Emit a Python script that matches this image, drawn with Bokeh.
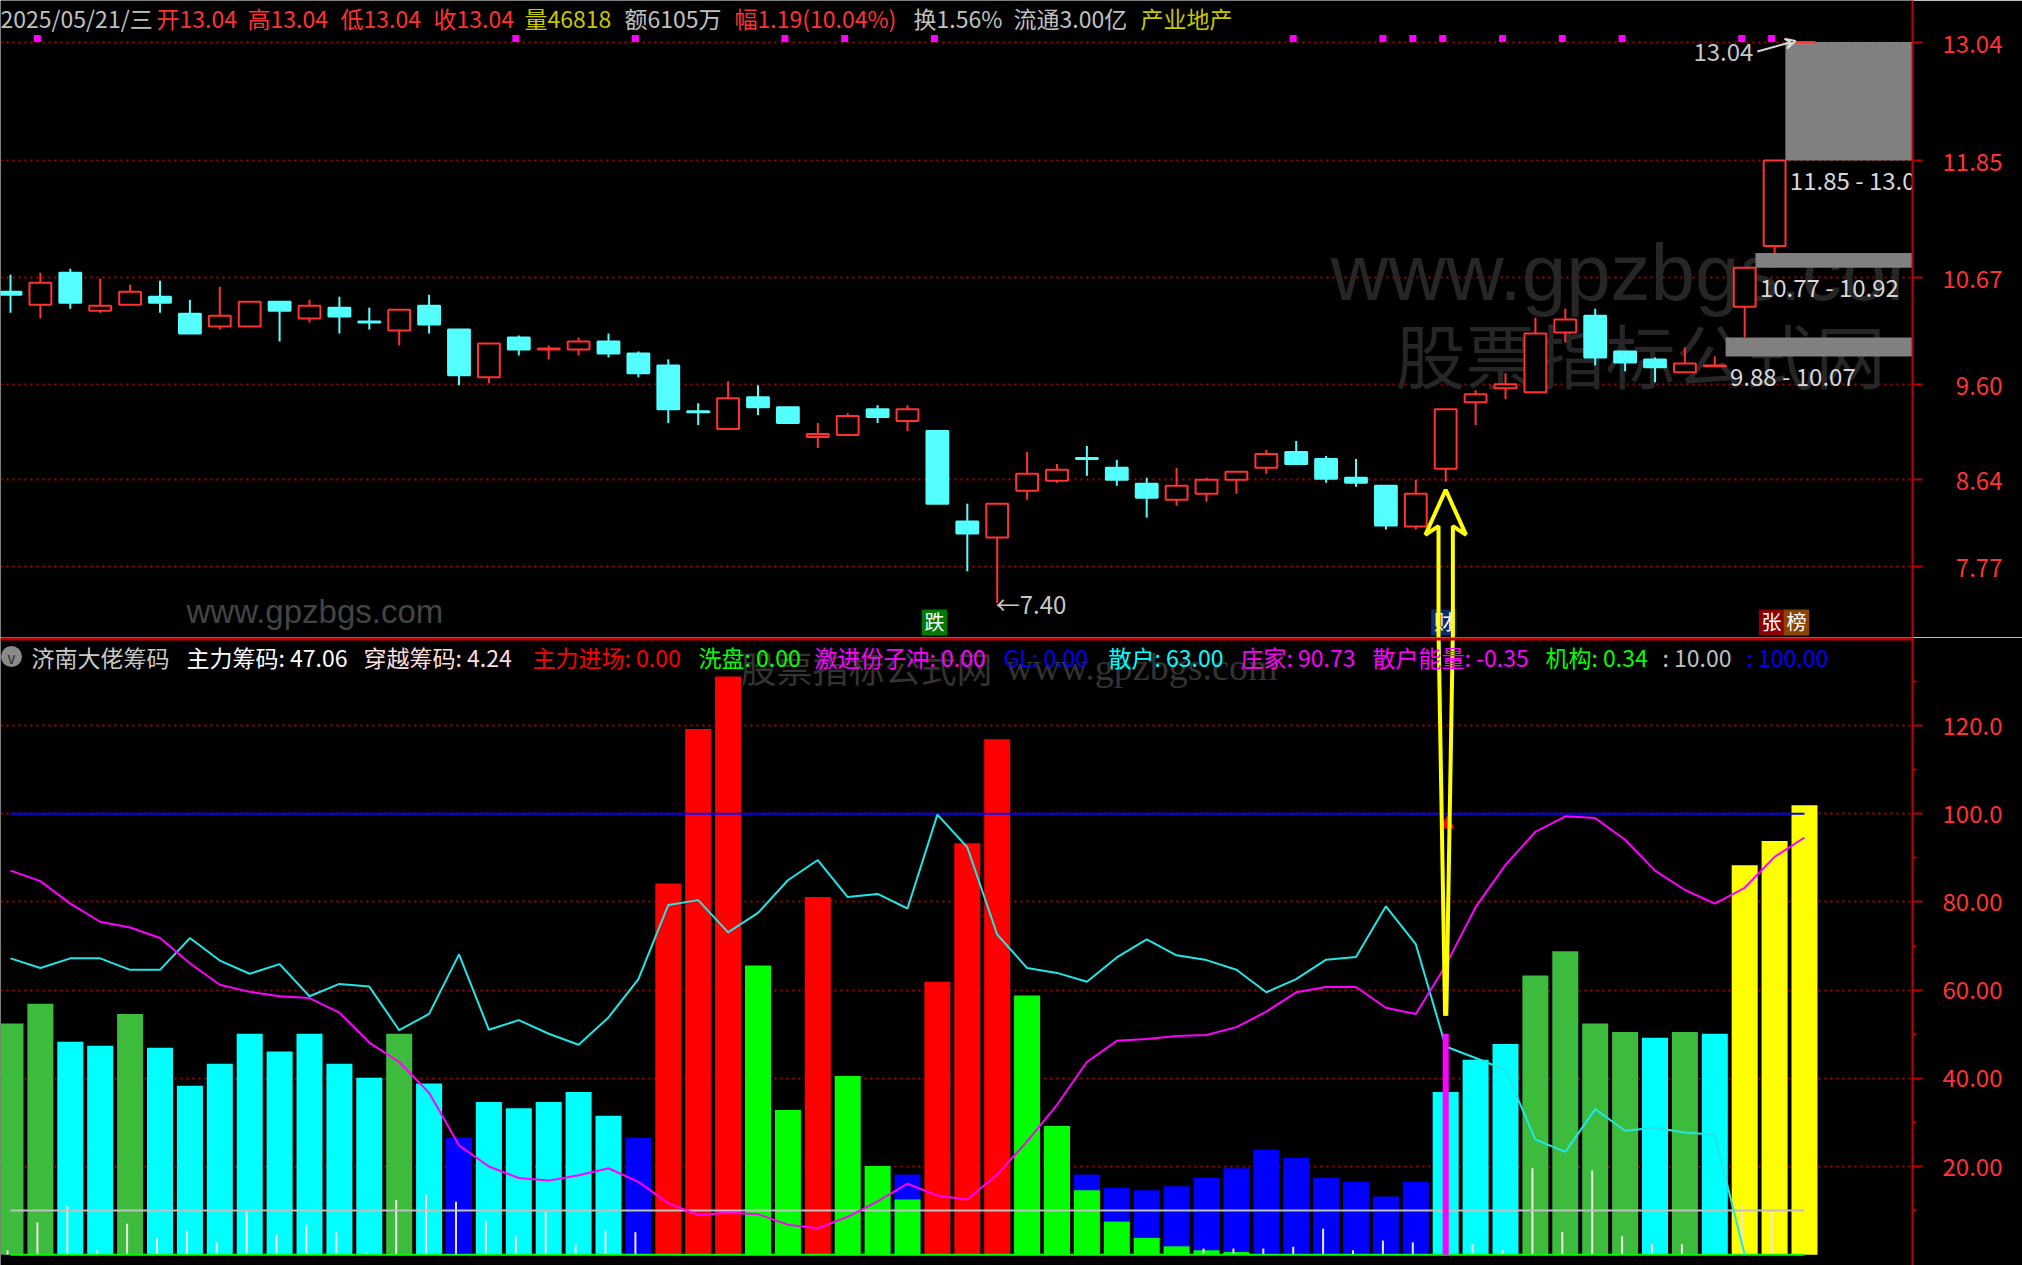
import numpy as np
from bokeh.plotting import figure
from bokeh.layouts import column
from bokeh.models import (Range1d, FixedTicker, Span, Label, Arrow, VeeHead)
from bokeh.core.properties import value
from bokeh.embed import file_html
from bokeh.resources import INLINE

# ---------------- data ----------------
trade_date = "2025/05/21/三"
volume = 46818
amount = "6105万"
change = 1.19
change_pct = 10.04
turnover = 1.56
float_cap = "3.00亿"
sector = "产业地产"

opens = [10.53, 10.40, 10.72, 10.34, 10.40, 10.48, 10.31, 10.18, 10.18, 10.43,
         10.26, 10.37, 10.23, 10.14, 10.39, 10.15, 9.67, 10.07, 9.95, 9.95,
         10.03, 9.91, 9.79, 9.33, 9.15, 9.47, 9.37, 9.07, 9.09, 9.35,
         9.23, 9.13, 8.22, 8.06, 8.53, 8.63, 8.86, 8.76, 8.60, 8.44,
         8.50, 8.64, 8.76, 8.92, 8.85, 8.66, 8.58, 8.17, 8.75, 9.42,
         9.56, 9.52, 10.12, 10.29, 9.93, 9.85, 9.72, 9.78, 10.38, 10.99, 13.04]
highs = [10.70, 10.72, 10.76, 10.66, 10.60, 10.64, 10.45, 10.58, 10.43, 10.43,
         10.45, 10.48, 10.37, 10.35, 10.50, 10.15, 10.01, 10.09, 9.99, 10.07,
         10.11, 9.93, 9.85, 9.41, 9.63, 9.59, 9.37, 9.21, 9.31, 9.39,
         9.39, 9.13, 8.40, 8.40, 8.92, 8.80, 8.98, 8.84, 8.66, 8.76,
         8.66, 8.72, 8.94, 9.03, 8.88, 8.85, 8.58, 8.64, 9.35, 9.54,
         9.71, 10.27, 10.36, 10.36, 9.93, 9.87, 9.97, 9.88, 10.77, 11.85, 13.04]
lows = [10.32, 10.26, 10.36, 10.32, 10.40, 10.32, 10.11, 10.15, 10.18, 10.03,
        10.22, 10.11, 10.15, 9.99, 10.11, 9.59, 9.61, 9.89, 9.85, 9.89,
        9.87, 9.67, 9.21, 9.19, 9.15, 9.29, 9.21, 8.96, 9.09, 9.21,
        9.13, 8.40, 7.72, 7.40, 8.44, 8.61, 8.68, 8.58, 8.26, 8.38,
        8.42, 8.50, 8.70, 8.80, 8.61, 8.57, 8.14, 8.14, 8.62, 9.19,
        9.45, 9.52, 10.02, 9.79, 9.73, 9.62, 9.72, 9.78, 10.07, 10.92, 13.04]
closes = [10.50, 10.62, 10.42, 10.39, 10.53, 10.42, 10.11, 10.29, 10.43, 10.34,
          10.39, 10.28, 10.22, 10.35, 10.20, 9.69, 10.01, 9.95, 9.96, 10.03,
          9.91, 9.71, 9.35, 9.32, 9.46, 9.37, 9.21, 9.10, 9.28, 9.27,
          9.35, 8.40, 8.10, 8.40, 8.70, 8.74, 8.85, 8.64, 8.46, 8.58,
          8.64, 8.72, 8.90, 8.80, 8.65, 8.61, 8.18, 8.50, 9.35, 9.50,
          9.60, 10.11, 10.25, 9.87, 9.82, 9.77, 9.81, 9.79, 10.77, 11.85, 13.04]

price_ticks = [7.77, 8.64, 9.60, 10.67, 11.85, 13.04]
signal_days = [1, 17, 21, 26, 28, 31, 43, 46, 47, 48, 50, 52, 54, 58, 59]
event_days = [31, 48, 59, 59]
event_texts = ["跌", "财", "张", "榜"]

bar_class = ["G", "G", "C", "C", "G", "C", "C", "C", "C", "C",
             "C", "C", "C", "G", "C", "B", "C", "C", "C", "C",
             "C", "B", "R", "R", "R", "L", "L", "R", "L", "L",
             "B", "R", "R", "R", "L", "L", "B", "B", "B", "B",
             "B", "B", "B", "B", "B", "B", "B", "B", "C", "C",
             "C", "G", "G", "G", "G", "C", "G", "C", "Y", "Y", "Y"]
bar_values = [52.4, 56.9, 48.3, 47.4, 54.6, 46.9, 38.3, 43.3, 50.1, 46.1,
              50.1, 43.3, 40.1, 50.1, 38.8, 26.5, 34.6, 33.2, 34.6, 36.9,
              31.5, 26.5, 84.2, 119.2, 131.1, 65.6, 32.8, 81.1, 40.5, 20.1,
              18.2, 61.9, 93.3, 116.9, 58.8, 29.2, 18.2, 15.2, 14.6, 15.5,
              17.4, 19.6, 23.8, 21.9, 17.4, 16.5, 13.2, 16.5, 36.9, 44.2,
              47.8, 63.3, 68.8, 52.4, 50.5, 49.2, 50.5, 50.1, 88.3, 93.8, 101.9]
wash_values = [0, 0, 0, 0, 0, 0, 0, 0, 0, 0,
               0, 0, 0, 0, 0, 0, 0, 0, 0, 0,
               0, 0, 0, 0, 0, 0, 0, 0, 0, 0,
               12.5, 0, 0, 0, 0, 0, 14.6, 7.5, 3.8, 1.9,
               1.0, 0.6, 0, 0, 0, 0, 0, 0, 0, 0,
               0, 0, 0, 0, 0, 0, 0, 0, 0, 0, 0]
retail_line = [67.2, 65.0, 67.2, 67.2, 64.6, 64.6, 71.8, 66.7, 63.7, 65.9,
               58.6, 61.4, 60.8, 50.9, 54.6, 68.1, 51.0, 53.2, 50.1, 47.6,
               53.8, 62.5, 79.3, 80.4, 73.1, 77.5, 84.9, 89.5, 81.1, 81.8,
               78.5, 99.8, 92.4, 72.6, 65.0, 63.9, 61.9, 67.4, 71.5, 67.9,
               66.8, 64.6, 59.5, 62.5, 66.9, 67.5, 79.0, 70.4, 47.2, 44.6,
               41.9, 26.1, 23.3, 33.0, 28.1, 28.8, 27.7, 27.2, 0.0]
banker_line = [87.1, 84.7, 79.6, 75.5, 74.2, 71.8, 66.1, 61.2, 59.6, 58.6,
               58.2, 54.9, 48.1, 43.7, 36.7, 24.8, 20.0, 17.4, 16.8, 18.0,
               19.6, 16.5, 11.7, 9.0, 9.5, 9.2, 6.8, 6.0, 8.6, 12.1,
               16.1, 13.4, 12.5, 18.2, 25.7, 34.0, 43.7, 48.5, 48.9, 49.6,
               49.8, 51.6, 55.1, 59.5, 60.7, 60.7, 56.0, 54.6, 65.6, 78.8,
               88.4, 95.9, 99.4, 99.0, 94.1, 87.1, 82.7, 79.6, 83.2, 90.2, 94.6]
tick_values = [1.0, 7.3, 11.1, 1.0, 7.0, 3.8, 5.5, 2.9, 9.7, 4.6,
               6.8, 5.1, 0.5, 12.4, 13.7, 12.0, 7.7, 4.2, 9.7, 2.3,
               5.5, 5.1, 0, 0, 0, 0, 0, 0, 0, 0,
               0, 0, 0, 0, 0, 0, 0, 0, 0, 0,
               1.4, 1.4, 1.4, 1.8, 5.9, 1.0, 3.2, 2.8, 0, 2.4,
               1.0, 19.6, 5.1, 19.1, 4.2, 2.4, 2.4, 0, 11.1, 9.8, 0]
level_low = 10.0
level_high = 100.0
ind_ticks = [20, 40, 60, 80, 100, 120]
ind_tick_labels = ["20.00", "40.00", "60.00", "80.00", "100.0", "120.0"]
ind_minor = [10, 30, 50, 70, 90, 110, 130]
legend_texts = ["济南大佬筹码", "主力筹码: 47.06", "穿越筹码: 4.24", "主力进场: 0.00",
                "洗盘: 0.00", "激进份子冲: 0.00", "GL: 0.00", "散户: 63.00",
                "庄家: 90.73", "散户能量: -0.35", "机构: 0.34", ": 10.00", ": 100.00"]
arrow_day = 48
arrow_tip_price = 8.54
arrow_end_value = 54.2
flag_value = 97.6
spike_value = 50.1

# ---------------- layout helpers ----------------
W, H1, H2, RB = 2022, 637, 628, 110
FONT = "Noto Sans CJK SC"
RED = "#ff3232"
CYAN = "#54ffff"


def X(refx):
    return (refx - 10.0) / 29.9


def PY(refy):
    return 13.04 + (41.5 - refy) / 99.5


def VY(refy):
    return 20.0 + (1166.0 - refy) / 4.41


n = len(closes)
idx = np.arange(n)
o = np.array(opens); h = np.array(highs); l = np.array(lows); c = np.array(closes)

xr = Range1d(X(0), X(1912))


def style_axis(p, ticker, overrides):
    ax = p.yaxis[0]
    ax.ticker = ticker
    ax.major_label_overrides = overrides
    ax.axis_line_color = "#c00000"
    ax.axis_line_width = 2
    ax.major_tick_line_color = "#c00000"
    ax.major_tick_line_width = 2
    ax.major_tick_out = 10
    ax.major_tick_in = 0
    ax.minor_tick_line_color = "#c00000"
    ax.minor_tick_line_width = 2
    ax.minor_tick_out = 4
    ax.minor_tick_in = 0
    ax.major_label_text_color = "#ff3333"
    ax.major_label_text_font = FONT
    ax.major_label_text_font_size = "24px"
    ax.major_label_standoff = 20
    p.ygrid.grid_line_color = "#b00000"
    p.ygrid.grid_line_dash = "2 4"
    p.ygrid.grid_line_width = 2
    p.xgrid.visible = False


common = dict(width=W, output_backend="svg", toolbar_location=None,
              y_axis_location="right", x_axis_location=None,
              background_fill_color="black", border_fill_color="black",
              outline_line_color=None, min_border_left=0, min_border_right=RB,
              min_border_top=0, min_border_bottom=0)

# ================= top: candles =================
p1 = figure(height=H1, x_range=xr, y_range=Range1d(PY(637), PY(0)), **common)
style_axis(p1, FixedTicker(ticks=price_ticks, minor_ticks=[]),
           {v: ("\u2007" if v < 10 else "") + f"{v:.2f}" for v in price_ticks})

# watermarks
p1.add_layout(Label(x=X(1330), y=PY(272), text="www.gpzbgs.com", text_font="Liberation Sans",
                    text_font_size="80px", text_color="#262626", text_baseline="alphabetic",
                    level="underlay"))
p1.add_layout(Label(x=X(1395), y=PY(353), text="股票指标公式网", text_font=FONT,
                    text_font_size="70px", text_color="#262626", text_baseline="middle",
                    level="underlay"))
p1.add_layout(Label(x=X(186), y=PY(611), text="www.gpzbgs.com", text_font="Liberation Sans",
                    text_font_size="33px", text_color="#444444", text_baseline="middle",
                    level="underlay"))

# unfilled upward gaps
gl, gr, gb, gt = [], [], [], []
for i in range(n - 1):
    lo_g, hi_g = h[i], l[i + 1]
    if hi_g > lo_g:
        rest = l[i + 2:]
        if len(rest) and rest.min() <= lo_g:
            continue
        if len(rest):
            hi_g = min(hi_g, rest.min())
        gl.append(i + 0.36); gr.append(X(1912)); gb.append(lo_g); gt.append(hi_g)
p1.quad(left=gl, right=gr, bottom=gb, top=gt, fill_color="#808080", line_color=None)
p1.text(x=[v + 0.15 for v in gl], y=[v - 0.19 for v in gb],
        text=[f"{a:.2f} - {b:.2f}" for a, b in zip(gb, gt)],
        text_color="#d8d8d8", text_font=value(FONT), text_font_size=value("24px"),
        text_baseline="middle", text_align="left")

# candles
up = c >= o
col = np.where(up, RED, CYAN).tolist()
fill = np.where(up, "black", CYAN).tolist()
p1.segment(x0=idx, y0=l, x1=idx, y1=h, line_color=col, line_width=2)
p1.vbar(x=idx, width=0.73, top=np.maximum(o, c), bottom=np.minimum(o, c),
        fill_color=fill, line_color=col, line_width=2)

# signal squares
p1.scatter(x=np.array(signal_days) - 0.1, y=[13.075] * len(signal_days), marker="square",
           size=7, fill_color="#ff00ff", line_color=None)

# header
hdr_texts = [trade_date, f"开{opens[-1]:.2f}", f"高{highs[-1]:.2f}", f"低{lows[-1]:.2f}",
             f"收{closes[-1]:.2f}", f"量{volume}", f"额{amount}",
             f"幅{change:.2f}({change_pct:.2f}%)", f"换{turnover:.2f}%", f"流通{float_cap}", sector]
hdr_x = [0, 156, 247, 340, 433, 524, 624, 734, 913, 1013, 1140]
hdr_c = ["#c0c0c0", RED, RED, RED, RED, "#c8c800", "#c0c0c0", RED, "#c0c0c0", "#c0c0c0", "#c8c800"]
p1.text(x=[X(v) for v in hdr_x], y=[PY(17.5)] * len(hdr_x), text=hdr_texts, text_color=hdr_c,
        text_font=value(FONT), text_font_size=value("23px"), text_baseline="middle",
        text_align="left")

# min / max markers
lo_i = int(np.argmin(l)); hi_i = int(np.argmax(h))
p1.text(x=[lo_i - 0.05], y=[l[lo_i]], text=[f"←{l[lo_i]:.2f}"], text_color="#c8c8c8",
        text_font=value(FONT), text_font_size=value("24px"), text_baseline="middle",
        text_align="left")
p1.text(x=[hi_i - 1.71], y=[h[hi_i] - 0.105], text=[f"{h[hi_i]:.2f}"], text_color="#c8c8c8",
        text_font=value(FONT), text_font_size=value("24px"), text_baseline="middle",
        text_align="right")
p1.add_layout(Arrow(end=VeeHead(size=10, line_color="#d8d8d8", line_width=2, fill_color=None),
                    x_start=hi_i - 1.58, y_start=h[hi_i] - 0.095,
                    x_end=hi_i - 0.3, y_end=h[hi_i] + 0.01,
                    line_color="#d8d8d8", line_width=2))

# event boxes
ev_off = [-0.1, -0.06, -0.1, 0.73]
ev_bg = ["#007a00", "#0b2a6a", "#8b0000", "#8b4500"]
ev_x = [d + off for d, off in zip(event_days, ev_off)]
p1.rect(x=ev_x, y=[PY(622)] * 4, width=25.5 / 29.9, height=26 / 99.5,
        fill_color=ev_bg, line_color=None)
p1.text(x=ev_x, y=[PY(621)] * 4, text=event_texts, text_color="white",
        text_font=value(FONT), text_font_size=value("20px"), text_baseline="middle",
        text_align="center")

# yellow arrow (top part)
ax0 = arrow_day
p1.line(x=[ax0 - 0.24, ax0 - 0.24, ax0 - 0.68, ax0, ax0 + 0.68, ax0 + 0.24, ax0 + 0.24],
        y=[PY(640), 8.175, 8.086, arrow_tip_price, 8.086, 8.175, PY(640)],
        line_color="#ffff00", line_width=4)

# ================= bottom: indicator =================
p2 = figure(height=H2, x_range=xr, y_range=Range1d(VY(1265), VY(637)), **common)
style_axis(p2, FixedTicker(ticks=ind_ticks, minor_ticks=ind_minor),
           {v: s for v, s in zip(ind_ticks, ind_tick_labels)})

p2.add_layout(Label(x=X(740), y=VY(666), text="股票指标公式网", text_font=FONT,
                    text_font_size="36px", text_color="#333333", text_baseline="middle",
                    level="underlay"))
p2.add_layout(Label(x=X(1005), y=VY(666), text="www.gpzbgs.com", text_font="Liberation Serif",
                    text_font_size="38px", text_color="#333333", text_baseline="middle",
                    level="underlay"))

colmap = {"G": "#3dbb3d", "L": "#00ff00", "C": "#00ffff", "B": "#0000ff",
          "R": "#ff0000", "Y": "#ffff00"}
p2.vbar(x=idx, width=0.87, top=bar_values, bottom=0,
        fill_color=[colmap[k] for k in bar_class], line_color=None)
wv = np.array(wash_values, dtype=float)
wm = wv > 0
p2.vbar(x=idx[wm], width=0.87, top=wv[wm], bottom=0, fill_color="#00ff00", line_color=None)

tv = np.array(tick_values, dtype=float)
tm = tv > 0
p2.segment(x0=idx[tm] - 0.1, y0=0, x1=idx[tm] - 0.1, y1=tv[tm], line_color="#f0e4e4", line_width=2)

p2.line(x=[0, n - 1], y=[0, 0], line_color="#00ff00", line_width=2)
p2.line(x=[0, n - 1], y=[level_low, level_low], line_color="#c0c0c0", line_width=2)
p2.line(x=[0, n - 1], y=[level_high, level_high], line_color="#0000ff", line_width=2)

p2.line(x=idx[:len(retail_line)], y=retail_line, line_color="#22e6e6", line_width=2)
p2.line(x=idx, y=banker_line, line_color="#ff00ff", line_width=2)

p2.segment(x0=[arrow_day], y0=[0], x1=[arrow_day], y1=[spike_value],
           line_color="#ff00ff", line_width=6)
p2.scatter(x=[arrow_day + 0.05], y=[flag_value], marker="triangle", size=15,
           fill_color="#ff0000", line_color=None)

# yellow arrow (bottom part)
p2.line(x=[ax0 - 0.24, ax0 - 0.02], y=[VY(630), arrow_end_value], line_color="#ffff00", line_width=4)
p2.line(x=[ax0 + 0.24, ax0 + 0.02], y=[VY(630), arrow_end_value], line_color="#ffff00", line_width=4)

# legend header
leg_x = [31, 186, 363, 532, 698, 814, 1003, 1108, 1240, 1372, 1545, 1662, 1746]
leg_c = ["#c8c8c8", "#ffffff", "#ffdede", "#ff0000", "#00ff00", "#ff00ff", "#0000ff",
         "#00ffff", "#ff00ff", "#ff00ff", "#00ff00", "#c0c0c0", "#0000ff"]
p2.scatter(x=[X(11)], y=[VY(656)], marker="circle", size=21, fill_color="#8a8a8a", line_color=None)
p2.text(x=[X(11)], y=[VY(657)], text=["v"], text_color="#2a2a2a", text_font=value(FONT),
        text_font_size=value("15px"), text_baseline="middle", text_align="center")
p2.text(x=[X(v) for v in leg_x], y=[VY(656.5)] * len(leg_x), text=legend_texts, text_color=leg_c,
        text_font=value(FONT), text_font_size=value("23px"), text_baseline="middle",
        text_align="left")

p2.add_layout(Span(location=VY(638.5), dimension="width", line_color="#c00000", line_width=3))

layout = column(p1, p2, spacing=0)
open("out.html", "w").write(file_html(layout, INLINE, title="chart"))
